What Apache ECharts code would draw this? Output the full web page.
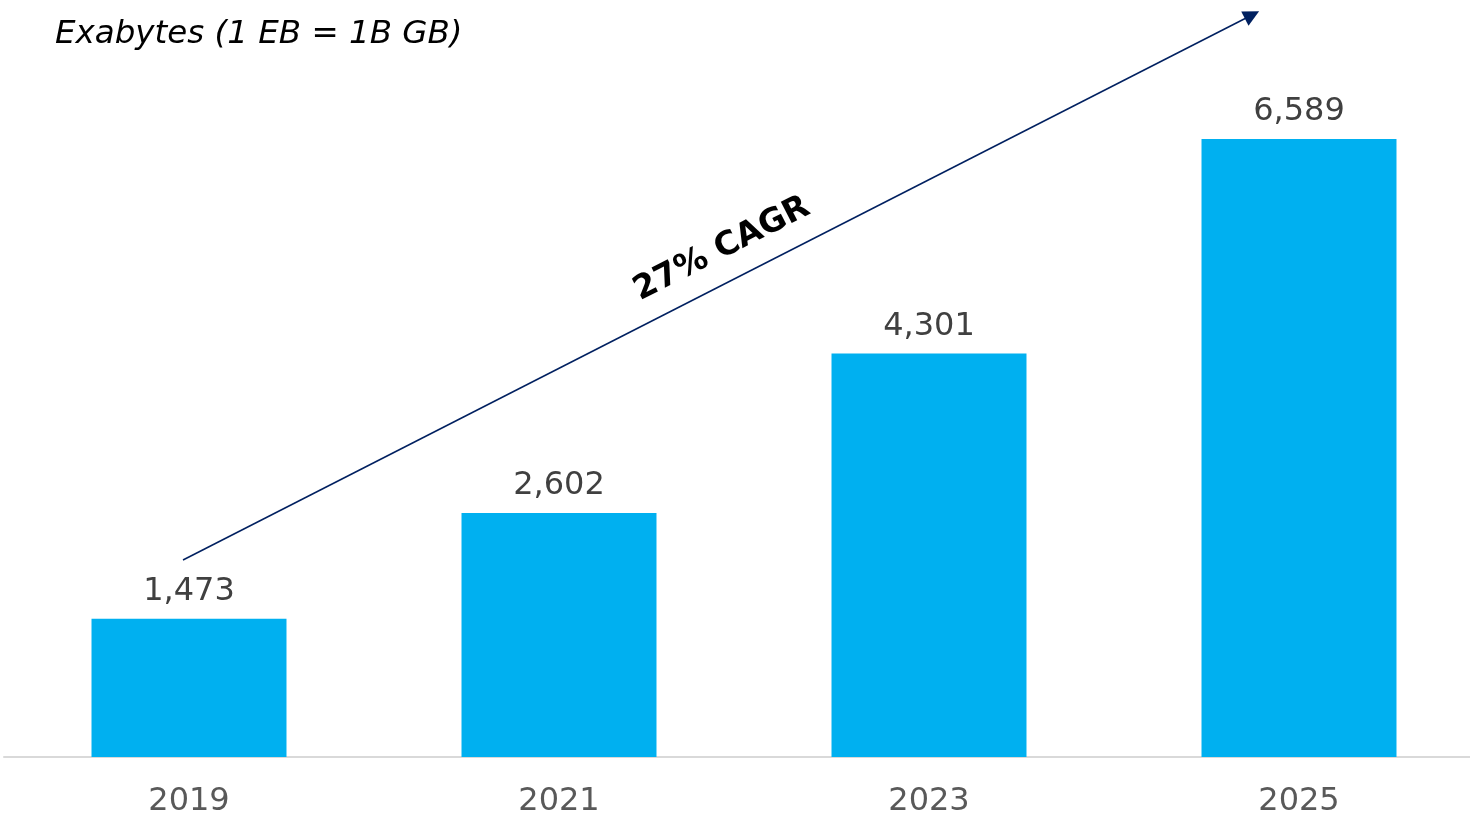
<!DOCTYPE html>
<html>
<head>
<meta charset="utf-8">
<style>
  html, body { margin: 0; padding: 0; background: #ffffff; }
  #chart { width: 1470px; height: 818px; }
</style>
<script src="https://cdn.jsdelivr.net/npm/echarts@6/dist/echarts.min.js"></script>
</head>
<body>
<div id="chart"></div>
<script>
// Global data volume by year, in exabytes
const years = ['2019', '2021', '2023', '2025'];
const exabytes = [1473, 2602, 4301, 6589];
const unitTitle = 'Exabytes (1 EB = 1B GB)';
const growthLabel = '27% CAGR';

const FONT = '"DejaVu Sans", Verdana, sans-serif';

const chart = echarts.init(document.getElementById('chart'));

chart.setOption({
  animation: false,
  backgroundColor: '#ffffff',
  title: {
    text: unitTitle,
    left: 50,
    top: 13,
    textStyle: {
      fontFamily: FONT,
      fontStyle: 'italic',
      fontWeight: 'normal',
      fontSize: 32.5,
      color: '#000000'
    }
  },
  // plot area is slightly wider than the canvas so the last bar sits near the edge
  grid: { left: 4, width: 1480, top: 0, bottom: 61, outerBoundsMode: 'none', containLabel: false },
  xAxis: {
    type: 'category',
    data: years,
    axisLine: { lineStyle: { color: '#d9d9d9', width: 2 } },
    axisTick: { show: false },
    axisLabel: {
      fontFamily: FONT,
      fontSize: 32,
      color: '#595959',
      margin: 29
    }
  },
  yAxis: {
    type: 'value',
    min: 0,
    max: 8070,
    show: false,
    splitLine: { show: false }
  },
  series: [{
    type: 'bar',
    data: exabytes,
    barWidth: '52.7%',
    itemStyle: { color: '#00b0f0' },
    label: {
      show: true,
      position: 'top',
      distance: 11,
      fontFamily: FONT,
      fontSize: 32,
      color: '#404040',
      formatter: p => p.value.toLocaleString('en-US')
    },
    markLine: {
      silent: true,
      symbol: ['none', 'triangle'],
      symbolSize: [16, 16],
      label: { show: false },
      lineStyle: { color: '#002060', width: 1.5, type: 'solid' },
      data: [[{ x: 183, y: 560 }, { x: 1252, y: 15 }]]
    }
  }],
  graphic: [{
    type: 'text',
    x: 722,
    y: 249,
    rotation: 27 * Math.PI / 180,
    style: {
      text: growthLabel,
      fontFamily: FONT,
      fontWeight: 'bold',
      fontSize: 33,
      fill: '#000000',
      textAlign: 'center',
      textVerticalAlign: 'middle'
    }
  }]
});
</script>
</body>
</html>
